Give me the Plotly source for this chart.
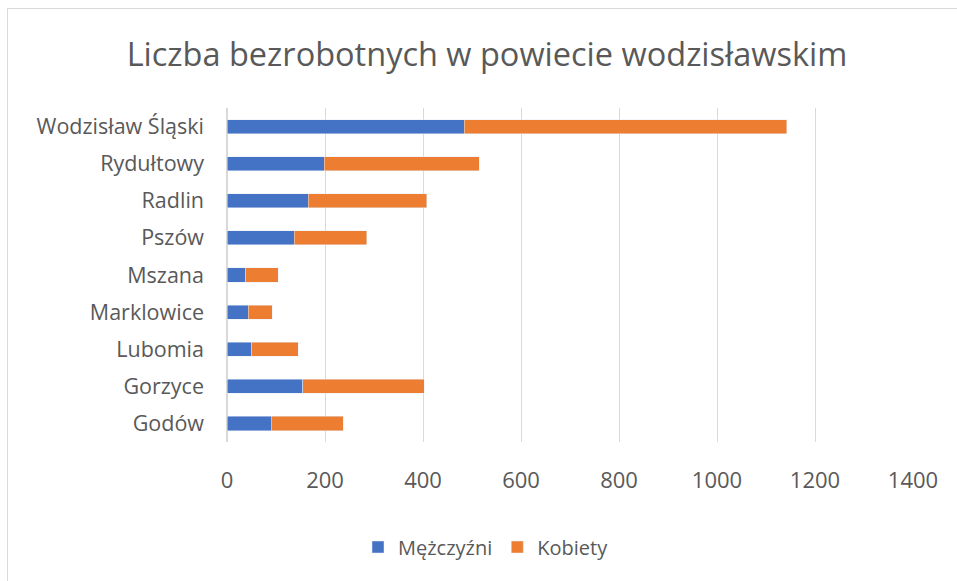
import plotly.graph_objects as go

categories = ["Godów", "Gorzyce", "Lubomia", "Marklowice", "Mszana", "Pszów", "Radlin", "Rydułtowy", "Wodzisław Śląski"]
men = [90, 155, 51, 43, 38, 137, 166, 198, 484]
women = [147, 248, 94, 49, 67, 148, 242, 317, 658]
x_ticks = [0, 200, 400, 600, 800, 1000, 1200, 1400]

W, H = 957, 581
L, R, T, B = 227, 44, 108, 139
FONT = "Open Sans"
GRAY = "#595959"

fig = go.Figure()
fig.add_trace(go.Bar(y=categories, x=men, name="Mężczyźni", orientation="h",
                     marker=dict(color="#4472C4")))
fig.add_trace(go.Bar(y=categories, x=women, name="Kobiety", orientation="h",
                     marker=dict(color="#ED7D31")))

pw = W - L - R
ph = H - T - B
fig.add_shape(type="rect", xref="paper", yref="paper",
              x0=(7.5 - L) / pw, x1=(W + 20 - L) / pw,
              y0=-(H + 20 - T - ph) / ph, y1=1 + (T - 8.5) / ph,
              line=dict(color="#d9d9d9", width=1), fillcolor="rgba(0,0,0,0)", layer="below")

fig.update_layout(
    width=W, height=H,
    margin=dict(l=L, r=R, t=T, b=B, autoexpand=False),
    barmode="stack", bargap=0.62,
    paper_bgcolor="white", plot_bgcolor="white",
    font=dict(family=FONT, color=GRAY, size=22),
    title=dict(text="Liczba bezrobotnych w powiecie wodzisławskim", x=(487 - L) / pw, xanchor="center",
               xref="paper",
               y=1 - 55 / H, yanchor="middle", font=dict(size=32.5, color=GRAY, family=FONT)),
    xaxis=dict(range=[0, 1400], tickvals=x_ticks, showgrid=True, gridcolor="#d9d9d9",
               gridwidth=1, zeroline=True, zerolinecolor="#d9d9d9", showline=False,
               ticklabelstandoff=23, tickfont=dict(size=22, color=GRAY)),
    yaxis=dict(showgrid=False, zeroline=False, showline=False, ticks="",
               ticklabelstandoff=22, tickfont=dict(size=21.5, color=GRAY)),
    legend=dict(orientation="h", x=(358 - L) / pw, xanchor="left", y=-(547 - (H - B)) / ph,
                yanchor="middle", font=dict(size=20, color=GRAY), traceorder="normal",
                itemwidth=30),
)

fig.write_html("out.html", config={"displayModeBar": False},
               post_script="document.body.style.margin='0';")
